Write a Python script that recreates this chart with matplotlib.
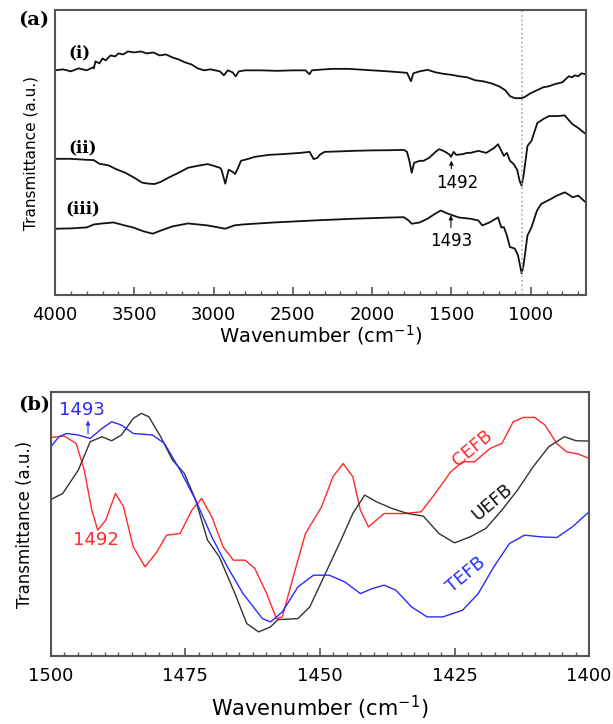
import matplotlib
import matplotlib.pyplot as plt
from matplotlib.ticker import MultipleLocator
matplotlib.use('Agg')

# ---- panel (a): full FTIR spectra (arbitrary transmittance units) ----
wn_i = [4000, 3950, 3900, 3850, 3800, 3760, 3755, 3745, 3720, 3700, 3680, 3650, 3620, 3600,
        3570, 3540, 3500, 3460, 3420, 3380, 3340, 3300, 3260, 3220, 3180, 3140, 3100, 3060,
        3020, 2960, 2935, 2910, 2880, 2860, 2840, 2800, 2700, 2600, 2500, 2420, 2395, 2380,
        2300, 2245, 2150, 2050, 2000, 1900, 1820, 1780, 1755, 1740, 1700, 1650, 1600, 1550,
        1500, 1450, 1400, 1350, 1300, 1250, 1200, 1160, 1130, 1100, 1060, 1040, 1000, 960,
        920, 884, 850, 800, 760, 740, 720, 700, 680, 653]
t_i = [226, 227, 225, 228, 226, 229, 228, 235, 233, 238, 236, 241, 240, 243,
       242, 245, 244, 245, 243, 244, 241, 242, 239, 237, 234, 232, 228, 226,
       227, 225, 221, 226, 224, 220, 225, 226, 226, 225.5, 226, 226, 222, 226,
       227, 227.5, 227.5, 226.5, 226, 225, 224, 223.5, 215, 223, 225, 226.5, 224, 222.5,
       221.5, 220, 219, 216, 215, 213, 210, 206, 200, 198, 198, 199, 203, 206,
       209, 210, 212, 214, 220, 219, 221, 220, 223, 222]

wn_ii = [4000, 3900, 3800, 3755, 3720, 3680, 3656, 3620, 3557, 3500, 3450, 3408, 3371, 3330,
         3285, 3220, 3161, 3100, 3037, 3000, 2960, 2950, 2926, 2905, 2880, 2864, 2845, 2827,
         2780, 2740, 2650, 2567, 2450, 2394, 2380, 2369, 2345, 2330, 2300, 2200, 2122, 2000,
         1874, 1800, 1780, 1765, 1750, 1735, 1700, 1676, 1640, 1600, 1577, 1550, 1528, 1510,
         1503, 1485, 1470, 1429, 1400, 1379, 1330, 1280, 1230, 1206, 1185, 1169, 1150, 1130,
         1107, 1085, 1070, 1057, 1045, 1020, 995, 958, 920, 884, 830, 785, 760, 735, 700, 653]
t_ii = [137, 137, 136, 135.7, 132, 131, 130, 127, 123, 118, 113, 112, 111.7, 114,
        118, 123, 128, 130, 131.7, 130, 128, 126, 112, 126, 124, 121.7, 128, 135,
        137, 139, 141, 141.7, 143, 144, 140, 136.7, 138, 141, 144, 144.5, 145, 145.5,
        145.7, 146, 144, 135, 123, 133, 135, 135, 138, 144, 146.7, 145, 143, 141,
        139, 144, 141, 141.7, 143, 143, 145, 143, 148, 151.7, 145, 140, 143, 135,
        131.7, 126, 115, 110, 120, 150, 155, 173, 177, 180, 180, 180.7, 176, 171.7, 168, 162]

wn_iii = [4000, 3900, 3800, 3755, 3700, 3631, 3560, 3508, 3440, 3384, 3330, 3260, 3161, 3037,
          2926, 2870, 2815, 2616, 2369, 2122, 1874, 1800, 1770, 1750, 1700, 1651, 1600, 1567,
          1520, 1453, 1379, 1330, 1305, 1260, 1206, 1185, 1169, 1150, 1131, 1100, 1080, 1057,
          1045, 1020, 995, 960, 933, 880, 834, 785, 760, 735, 700, 653]
t_iii = [66.7, 67, 68, 71, 72, 73, 70, 68, 64, 61.7, 65, 69, 72, 70,
         66.7, 70, 71, 73, 75, 76.7, 78, 78.3, 75, 71.7, 73, 76.7, 82, 85,
         81.7, 78, 76.7, 75, 70, 73, 78, 68, 68.3, 60, 48.3, 46.7, 40, 21.7,
         30, 60, 68, 85, 91.7, 96, 100, 103.3, 101, 98.3, 100, 93.3]

# ---- panel (b): 1500-1400 cm-1 region ----
wn_uefb = [1500, 1497.8, 1494.9, 1492.7, 1490.5, 1488.7, 1486.9, 1484.7, 1483.2, 1481.8, 1479.6,
           1477.4, 1475.2, 1473.1, 1470.9, 1468.7, 1465.8, 1463.6, 1461.4, 1459.2, 1457.8, 1454.1,
           1451.9, 1449.0, 1446.1, 1443.9, 1441.7, 1439.5, 1436.6, 1433.7, 1430.8, 1427.9, 1425.0,
           1422.1, 1419.2, 1416.2, 1413.3, 1410.4, 1407.5, 1404.6, 1402.4, 1400]
t_uefb = [156.3, 162.3, 185.7, 214, 219, 215, 220.7, 237.3, 242.3, 239, 219,
          195.7, 182.3, 155.7, 115.7, 99, 62.3, 32.3, 24, 29, 36.3, 37.3,
          49, 82.3, 115.7, 142.3, 160.7, 154, 147.3, 142.3, 139.7, 122.3, 113,
          119, 127.3, 145.7, 165.7, 189, 209, 219, 215, 214.7]

wn_cefb = [1500, 1497.5, 1495.3, 1493.8, 1492.4, 1491.3, 1489.8, 1488.0, 1486.5, 1484.7, 1482.5,
           1480.3, 1478.5, 1476.0, 1473.8, 1472.0, 1470.1, 1468.0, 1466.1, 1463.9, 1462.1, 1459.9,
           1458.1, 1457.0, 1454.8, 1452.7, 1449.7, 1447.6, 1445.7, 1443.9, 1442.5, 1441.0, 1439.5,
           1438.1, 1434.4, 1431.2, 1428.6, 1425.7, 1423.5, 1421.3, 1418.4, 1416.2, 1414.1, 1412.2,
           1410.1, 1408.2, 1406.0, 1404.2, 1402.0, 1400]
t_cefb = [218.3, 219.7, 212.3, 185.7, 145.7, 125.7, 135.7, 162.3, 149, 109, 89,
          104, 120.7, 122.3, 145.7, 157.3, 139, 109, 95.7, 95.7, 87.3, 62.3,
          37.3, 39, 82.3, 122.3, 149, 179, 192.3, 179, 145.7, 129, 135.7,
          142.3, 142.3, 144, 162.3, 184, 194, 194, 207.3, 212.3, 234, 238.3,
          238.3, 230.7, 212.3, 204, 201.7, 197.3]

wn_tefb = [1500, 1498.5, 1497.1, 1494.9, 1492.7, 1490.5, 1488.7, 1486.9, 1484.7, 1481.1, 1478.9,
           1476.0, 1473.1, 1470.1, 1467.2, 1464.3, 1460.7, 1459.2, 1457.0, 1454.1, 1451.2, 1448.3,
           1445.4, 1442.5, 1440.3, 1438.1, 1435.9, 1433.0, 1430.1, 1427.2, 1423.5, 1420.6, 1417.7,
           1414.8, 1412.0, 1409.0, 1406.0, 1403.1, 1400]
t_tefb = [209, 219, 222.3, 220.7, 217.3, 227.3, 234, 230.7, 222.3, 220.7, 212.3,
          185.7, 155.7, 119, 89, 62.3, 37.3, 34, 44, 69, 80.7, 80.7,
          74, 62.3, 67.3, 70.7, 65.7, 49, 39, 39, 45.7, 62.3, 89,
          112.3, 120.7, 119, 118.3, 129, 144]

plt.rcParams['font.family'] = ['DejaVu Sans']
spine_col = '#555555'

fig = plt.figure(figsize=(6.13, 7.24), dpi=100)
ax1 = fig.add_axes([0.0897, 0.5925, 0.8665, 0.3937])
ax2 = fig.add_axes([0.083, 0.094, 0.878, 0.364])

# panel (a)
ax1.plot(wn_i, t_i, color='#111111', lw=1.3)
ax1.plot(wn_ii, t_ii, color='#111111', lw=1.3)
ax1.plot(wn_iii, t_iii, color='#111111', lw=1.3)
ax1.axvline(1057, color='#aaaaaa', ls=':', lw=1.2)
ax1.set_xlim(4000, 650)
ax1.set_ylim(0, 286.7)
ax1.xaxis.set_major_locator(MultipleLocator(500))
ax1.xaxis.set_minor_locator(MultipleLocator(100))
ax1.set_yticks([])
ax1.text(0.025, 0.835, '(i)', transform=ax1.transAxes, family='DejaVu Serif',
         fontweight='bold', fontsize=12)
ax1.text(0.025, 0.50, '(ii)', transform=ax1.transAxes, family='DejaVu Serif',
         fontweight='bold', fontsize=12)
ax1.text(0.02, 0.285, '(iii)', transform=ax1.transAxes, family='DejaVu Serif',
         fontweight='bold', fontsize=12)
ax1.annotate('', xy=(1500, 138), xytext=(1500, 124),
             arrowprops=dict(arrowstyle='-|>', color='#111111', lw=0.8, mutation_scale=6))
ax1.text(1465, 113, '1492', ha='center', va='center', fontsize=12)
ax1.annotate('', xy=(1503, 83), xytext=(1503, 65),
             arrowprops=dict(arrowstyle='-|>', color='#111111', lw=0.8, mutation_scale=6))
ax1.text(1503, 54, '1493', ha='center', va='center', fontsize=12)
ax1.set_xlabel('Wavenumber (cm$^{-1}$)', fontsize=14, labelpad=-1)
ax1.set_ylabel('Transmittance (a.u.)', fontsize=11, labelpad=12)
fig.text(0.03, 0.972, '(a)', family='DejaVu Serif', fontweight='bold', fontsize=14,
         va='center', ha='left')

# panel (b)
ax2.plot(wn_cefb, t_cefb, color='#ff2a2a', lw=1.0, solid_joinstyle='round')
ax2.plot(wn_uefb, t_uefb, color='#333333', lw=1.0, solid_joinstyle='round')
ax2.plot(wn_tefb, t_tefb, color='#2a2aff', lw=1.0, solid_joinstyle='round')
ax2.set_xlim(1500, 1400)
ax2.set_ylim(0, 263.3)
ax2.xaxis.set_major_locator(MultipleLocator(25))
ax2.xaxis.set_minor_locator(MultipleLocator(2.5))
ax2.set_yticks([])
ax2.text(1494.2, 246, '1493', color='#2a2aff', ha='center', va='center', fontsize=13)
ax2.annotate('', xy=(1493.1, 238), xytext=(1493.1, 219),
             arrowprops=dict(arrowstyle='-|>', color='#2a2aff', lw=0.8, mutation_scale=6))
ax2.text(1491.6, 116, '1492', color='#ff2a2a', ha='center', va='center', fontsize=13)
ax2.text(1421.7, 207, 'CEFB', color='#ff2a2a', ha='center', va='center', fontsize=13, rotation=40)
ax2.text(1418.1, 154, 'UEFB', color='#111111', ha='center', va='center', fontsize=13, rotation=40)
ax2.text(1422.8, 81, 'TEFB', color='#2a2aff', ha='center', va='center', fontsize=13, rotation=40)
ax2.set_xlabel('Wavenumber (cm$^{-1}$)', fontsize=15, labelpad=6)
ax2.set_ylabel('Transmittance (a.u.)', fontsize=12, labelpad=12)
fig.text(0.03, 0.44, '(b)', family='DejaVu Serif', fontweight='bold', fontsize=14,
         va='center', ha='left')

for ax in (ax1, ax2):
    for s in ax.spines.values():
        s.set_color(spine_col)
        s.set_linewidth(1.5)
    ax.tick_params(axis='x', which='major', direction='in', length=6, width=1.2,
                   color=spine_col, labelsize=13, pad=8)
    ax.tick_params(axis='x', which='minor', direction='in', length=3, width=1.0,
                   color=spine_col)

plt.savefig('out.png', dpi=100)
plt.close()
